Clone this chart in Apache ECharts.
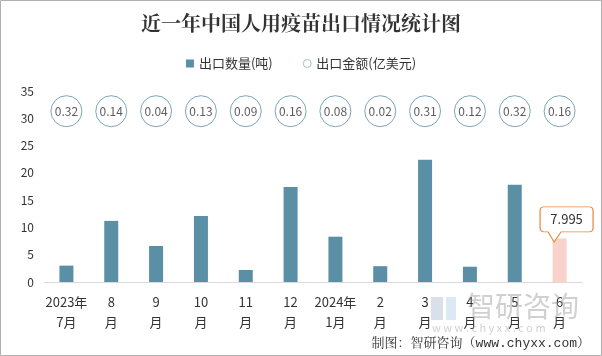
<!DOCTYPE html>
<html><head><meta charset="utf-8">
<script src="https://cdn.jsdelivr.net/npm/echarts@6/dist/echarts.min.js"></script>
<style>html,body{margin:0;padding:0;background:#fff}#c{width:602px;height:356px}</style>
</head><body><div id="c"></div>
<script>
const categories = ['2023年\n7月','8\n月','9\n月','10\n月','11\n月','12\n月','2024年\n1月','2\n月','3\n月','4\n月','5\n月','6\n月'];
const quantity = [3.0, 11.2, 6.6, 12.1, 2.2, 17.4, 8.3, 2.9, 22.4, 2.8, 17.8, 7.995];
const amount = [0.32, 0.14, 0.04, 0.13, 0.09, 0.16, 0.08, 0.02, 0.31, 0.12, 0.32, 0.16];
const yTicks = [0, 5, 10, 15, 20, 25, 30, 35];
const LABEL_ROW = 31.3;
const highlightIndex = 11;

const chart = echarts.init(document.getElementById('c'));
const barColor = '#5b8fa6';
const font = '"Noto Sans CJK SC", "Microsoft YaHei", sans-serif';
const calloutPath = 'path://M4,0 L49,0 Q53,0 53,4 L53,21 Q53,25 49,25 L21,25 L14,35 L8,25 L4,25 Q0,25 0,21 L0,4 Q0,0 4,0 Z';

chart.setOption({
  animation: false,
  textStyle: {fontFamily: font},
  title: {
    text: '近一年中国人用疫苗出口情况统计图',
    left: 'center', top: 8,
    textStyle: {fontSize: 20, fontWeight: 'bold', color: '#333', fontFamily: '"Noto Serif CJK SC", "Noto Sans CJK SC", serif'}
  },
  legend: {
    top: 52, left: 'center', itemGap: 30,
    textStyle: {fontSize: 13, color: '#333'},
    data: [
      {name: '出口数量(吨)', icon: 'rect', itemStyle: {color: barColor}},
      {name: '出口金额(亿美元)', icon: 'circle', itemStyle: {color: '#fff', borderColor: '#8fb0c0', borderWidth: 1}}
    ],
    itemWidth: 8, itemHeight: 8
  },
  grid: {left: 44, right: 20, top: 91, bottom: 74},
  xAxis: {
    type: 'category', data: categories,
    axisLine: {lineStyle: {color: '#d9d9d9'}},
    axisTick: {show: false},
    axisLabel: {fontSize: 13, color: '#333', lineHeight: 20, margin: 10, interval: 0}
  },
  yAxis: {
    type: 'value', min: yTicks[0], max: yTicks[yTicks.length-1], interval: 5,
    axisLine: {show: false}, axisTick: {show: false}, splitLine: {show: false},
    axisLabel: {fontSize: 12, color: '#333', margin: 10}
  },
  graphic: [
    {type: 'rect', shape: {x: 0.5, y: 0.5, width: 601, height: 355}, style: {fill: 'none', stroke: '#b0b0b0', lineWidth: 1}, z: 100},
    {type: 'rect', shape: {x: 431, y: 297, width: 12, height: 23}, style: {fill: 'rgba(170,185,210,0.45)'}, z: 50},
    {type: 'rect', shape: {x: 446, y: 297, width: 10, height: 23}, style: {fill: 'rgba(190,215,235,0.55)'}, z: 50},
    {type: 'text', left: 467, top: 292, style: {text: '智研咨询', fontSize: 28, fill: 'rgba(150,150,150,0.45)', fontFamily: font}, z: 50},
    {type: 'text', left: 432, top: 322, style: {text: 'w w w . c h y x x . c o m', fontSize: 11, fill: 'rgba(150,150,150,0.45)', fontFamily: font}, z: 50},
    {type: 'text', right: 12, top: 337, style: {text: '制图：智研咨询（www.chyxx.com）', fontSize: 13, fill: '#333', fontFamily: '"Liberation Mono", "Noto Serif CJK SC", "Noto Sans CJK SC", monospace'}, z: 60}
  ],
  series: [
    {
      name: '出口数量(吨)', type: 'bar', barWidth: 14,
      itemStyle: {color: barColor},
      data: quantity.map((v, i) => i === highlightIndex ? {value: v, itemStyle: {color: '#f9d3cb'}} : v),
      markPoint: {
        symbol: calloutPath, symbolSize: [53, 35], symbolKeepAspect: false,
        symbolOffset: [7, -14],
        itemStyle: {color: '#fff', borderColor: '#e8893a', borderWidth: 1},
        label: {show: true, color: '#333', fontSize: 13, offset: [0, -5], formatter: p => String(quantity[highlightIndex])},
        data: [{coord: [highlightIndex, quantity[highlightIndex]]}]
      }
    },
    {
      name: '出口金额(亿美元)', type: 'scatter', symbol: 'circle', symbolSize: 31,
      itemStyle: {color: '#fff', borderColor: '#5b8ea6', borderWidth: 1},
      label: {show: true, position: 'inside', color: '#333', fontSize: 12, formatter: p => p.value[2].toFixed(2)},
      data: amount.map((v, i) => [i, LABEL_ROW, v])
    }
  ]
});
</script></body></html>
